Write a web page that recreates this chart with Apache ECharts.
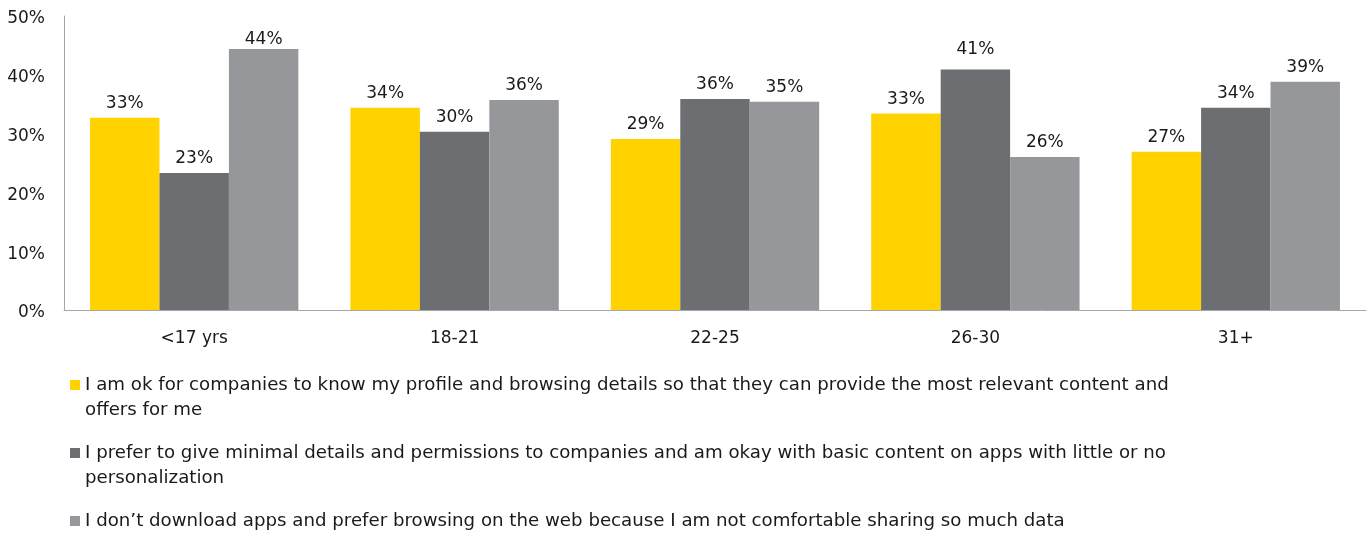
<!DOCTYPE html>
<html>
<head>
<meta charset="utf-8">
<script src="https://cdn.jsdelivr.net/npm/echarts@6/dist/echarts.min.js"></script>
<style>
html,body{margin:0;padding:0;background:#fff;}
#chart{width:1370px;height:535px;}
</style>
</head>
<body>
<div id="chart"></div>
<script>
const categories = ['<17 yrs', '18-21', '22-25', '26-30', '31+'];
const seriesNames = [
  'I am ok for companies to know my profile and browsing details so that they can provide the most relevant content and offers for me',
  'I prefer to give minimal details and permissions to companies and am okay with basic content on apps with little or no personalization',
  'I don\u2019t download apps and prefer browsing on the web because I am not comfortable sharing so much data'
];
const legendLabels = [
  'I am ok for companies to know my profile and browsing details so that they can provide the most relevant content and\noffers for me',
  'I prefer to give minimal details and permissions to companies and am okay with basic content on apps with little or no\npersonalization',
  'I don\u2019t download apps and prefer browsing on the web because I am not comfortable sharing so much data'
];
const okValues = [32.7, 34.4, 29.1, 33.4, 26.9];
const minimalValues = [23.3, 30.3, 35.9, 40.9, 34.4];
const noAppValues = [44.4, 35.7, 35.4, 26.0, 38.8];
const yTicks = [0, 10, 20, 30, 40, 50];
const colors = ['#FFD200', '#6D6E72', '#96979B'];

const FONT = 'DejaVu Sans, sans-serif';
const TXT = '#1a1a1a';

// manual label nudges seen in the original (series index, category index) -> vertical offset
const labelNudges = { '2-0': 5, '1-3': -5 };

const chart = echarts.init(document.getElementById('chart'));

function mkLegend(i, top) {
  const twoLines = legendLabels[i].indexOf('\n') >= 0;
  return {
    show: true,
    data: [seriesNames[i]],
    left: 70,
    top: top,
    padding: 0,
    selectedMode: false,
    icon: 'rect',
    itemWidth: 10,
    itemHeight: 10,
    itemGap: 0,
    formatter: function () { return twoLines ? '\n' + legendLabels[i] : legendLabels[i]; },
    textStyle: {
      fontFamily: FONT,
      fontSize: 18.2,
      color: TXT,
      lineHeight: 25
    }
  };
}

const valueArrays = [okValues, minimalValues, noAppValues];

chart.setOption({
  animation: false,
  color: colors,
  grid: { left: 64, right: 4, top: 16, bottom: 225, containLabel: false },
  legend: [mkLegend(0, 347.5), mkLegend(1, 415.5), mkLegend(2, 508.5)],
  xAxis: {
    type: 'category',
    data: categories,
    axisLine: { lineStyle: { color: '#A6A6A6', width: 1 } },
    axisTick: { show: false },
    axisLabel: { fontFamily: FONT, fontSize: 17, color: TXT, margin: 20 }
  },
  yAxis: {
    type: 'value',
    min: yTicks[0],
    max: yTicks[yTicks.length - 1],
    interval: 10,
    axisLine: { show: true, lineStyle: { color: '#A6A6A6', width: 1 } },
    axisTick: { show: false },
    splitLine: { show: false },
    axisLabel: {
      fontFamily: FONT, fontSize: 17, color: TXT, margin: 19,
      verticalAlign: 'top', lineHeight: 6,
      formatter: '{value}%'
    }
  },
  series: valueArrays.map(function (vals, i) {
    return {
      name: seriesNames[i],
      type: 'bar',
      data: vals.map(function (v, j) {
        const nudge = labelNudges[i + '-' + j];
        return nudge ? { value: v, label: { offset: [0, nudge] } } : v;
      }),
      barGap: '0%',
      barCategoryGap: '20%',
      label: {
        show: true,
        position: 'top',
        distance: 6,
        fontFamily: FONT,
        fontSize: 17,
        color: TXT,
        formatter: function (p) { return Math.round(p.value) + '%'; }
      }
    };
  })
});
</script>
</body>
</html>
